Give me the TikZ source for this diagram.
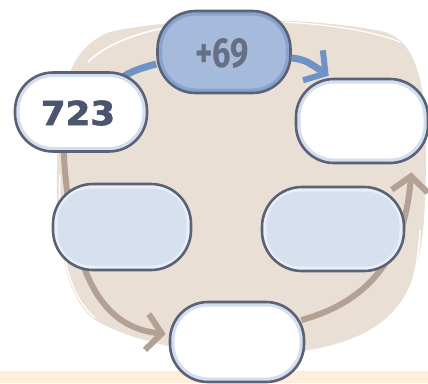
\documentclass[tikz,border=0pt]{standalone}
\usepackage{fontspec}
\usetikzlibrary{arrows.meta,calc}
\newfontfamily\bignum{DejaVu Sans}[BoldFeatures={FakeBold=2}]
\newfontfamily\condnum{Fira Sans}
\definecolor{blob}{HTML}{EADFD5}
\definecolor{cream}{HTML}{FDEFDB}
\definecolor{edge}{HTML}{5C6275}
\definecolor{arrblue}{HTML}{6E93C6}
\definecolor{arrbrown}{HTML}{B3A294}
\definecolor{numtxt}{HTML}{4B566E}
\definecolor{deep}{HTML}{A6BBDC}
\definecolor{deepout}{HTML}{86A2CE}
\definecolor{pale}{HTML}{D6E0EF}
\definecolor{paleout}{HTML}{E9EFF8}
\definecolor{whiteout}{HTML}{D3DEEE}
\pgfdeclarelayer{blobl}
\pgfdeclarelayer{arrl}
\pgfsetlayers{blobl,arrl,main}
\tikzset{
  pebble/.style={draw=edge, line width=2.6pt, rounded corners=38pt},
  rim/.style={path picture={\draw[line width=9pt, #1, rounded corners=38pt]
     (path picture bounding box.south west) rectangle (path picture bounding box.north east);}},
  whitepeb/.style={pebble, fill=white, rim=whiteout},
  palepeb/.style={pebble, fill=pale, rim=paleout},
  deeppeb/.style={pebble, fill=deep, rim=deepout},
  bluearr/.style={draw=arrblue, line width=7pt},
  brownarr/.style={draw=arrbrown, line width=6pt},
  chev/.style={-{Straight Barb[length=15pt,width=36pt,line width=6pt]}},
}
\begin{document}
\begin{tikzpicture}[x=1pt,y=-1pt]
\useasboundingbox (0,0) rectangle (428,383);
% nodes
\node[whitepeb, minimum width=132pt, minimum height=79pt] (n723) at (81,112) {};
\node[font=\bignum\bfseries\fontsize{33}{33}\selectfont, text=numtxt] (t723) at (78,113) {\scalebox{1.08}[1]{723}};
\node[deeppeb, minimum width=133pt, minimum height=82pt] (n69) at (224,52) {};
\node[font=\condnum\bfseries\fontsize{42}{42}\selectfont, text=numtxt!85!white] (t69) at (222,54) {\scalebox{0.78}[1]{+69}};
\node[whitepeb, minimum width=132pt, minimum height=84pt] (nTR) at (362,121) {};
\node[palepeb, minimum width=138pt, minimum height=86pt, rounded corners=40pt] (nML) at (122,227) {};
\node[palepeb, minimum width=142pt, minimum height=84pt, rounded corners=40pt] (nMR) at (333,229) {};
\begin{pgfonlayer}{blobl}
\fill[blob] (110,32) .. controls (170,18) and (300,14) .. (385,32)
  .. controls (428,45) and (428,120) .. (425,200)
  .. controls (422,290) and (400,330) .. (320,348)
  .. controls (250,362) and (150,352) .. (95,320)
  .. controls (55,290) and (55,200) .. (58,140)
  .. controls (60,80) and (75,45) .. (110,32) -- cycle;
\draw[white, line width=1.6pt] (88,62) .. controls (110,40) and (150,30) .. (175,26);
\draw[white, line width=1.4pt] (60,175) .. controls (58,230) and (62,290) .. (95,318);
\draw[white, line width=1.6pt] (420,230) .. controls (418,280) and (405,310) .. (385,330);
\draw[white, line width=1.2pt] (285,22) .. controls (330,25) and (370,30) .. (400,42);
\fill[cream] (0,371) rectangle (428,383);
\end{pgfonlayer}
\node[whitepeb, minimum width=134pt, minimum height=80pt] (nB) at (237,342) {};
% arrows
\begin{pgfonlayer}{arrl}
\draw[bluearr] ($(n723.north east)+(-30,8)$) .. controls (135,70) .. (n69.190);
\draw[bluearr, chev] (n69.-5) .. controls (305,60) .. ($(nTR.north west)+(34,-2)$);
\draw[brownarr, chev] ($(n723.south west)+(50,0)$) .. controls (72,290) and (110,328) .. ($(nB.west)+(-3,-8)$);
\draw[brownarr, chev] ($(nB.east)+(-4,-22)$) .. controls (375,300) and (405,250) .. ($(nTR.south east)+(-18,8)$);
\end{pgfonlayer}
\end{tikzpicture}
\end{document}
